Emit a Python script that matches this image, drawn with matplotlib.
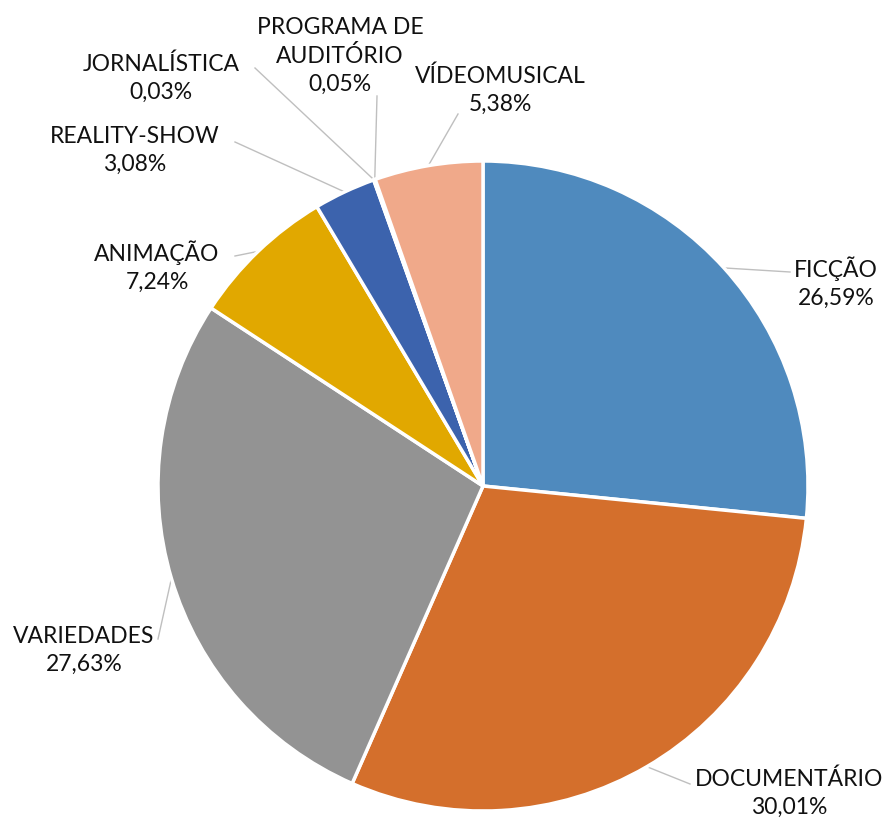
import numpy as np
from matplotlib import pyplot as plt

plt.rcParams['font.family'] = ['Lato', 'DejaVu Sans']

categorias = ['FICÇÃO', 'DOCUMENTÁRIO', 'VARIEDADES', 'ANIMAÇÃO', 'REALITY-SHOW',
              'JORNALÍSTICA', 'PROGRAMA DE\nAUDITÓRIO', 'VÍDEOMUSICAL']
valores = [26.59, 30.01, 27.63, 7.24, 3.08, 0.03, 0.05, 5.38]
cores = ['#4F8ABE', '#D46F2C', '#939393', '#E1A800', '#3C63AD',
         '#8A5A2A', '#6E6E6E', '#F0A98A']

# posicao dos rotulos (pixels) e cotovelo da linha de chamada
rotulos_px = [(836, 283), (789, 793), (84, 650), (157, 267), (135, 150),
              (161, 78), (340, 56), (500, 90)]
cotovelo_px = [(790, 273), (690, 785), (158, 640), (235, 257), (235, 143),
               (255, 69), (377, 97), (458, 115)]

W, H = 884, 820
CX, CY, R = 483, 487, 325


def px(x, y):
    return (x - CX) / R, (CY - y) / R


fig = plt.figure(figsize=(W / 100, H / 100), dpi=100)
ax = fig.add_axes([0, 0, 1, 1])
wedges, _ = ax.pie(valores, colors=cores, startangle=90, counterclock=False,
                   radius=1, wedgeprops=dict(edgecolor='white', linewidth=2.5))
ax.set_xlim(px(0, 0)[0], px(W, 0)[0])
ax.set_ylim(px(0, H)[1], px(0, 0)[1])
ax.set_aspect('equal')
ax.axis('off')

for w, nome, v, lp, cp in zip(wedges, categorias, valores, rotulos_px, cotovelo_px):
    ang = np.deg2rad((w.theta1 + w.theta2) / 2)
    ex, ey = np.cos(ang), np.sin(ang)
    cx, cy = px(*cp)
    ax.plot([ex, cx], [ey, cy], color='#BFBFBF', lw=1, zorder=0)
    tx, ty = px(*lp)
    texto = f"{nome}\n{v:.2f}%".replace('.', ',')
    ax.text(tx, ty, texto, ha='center', va='center', fontsize=16.5,
            color='#111111', linespacing=1.4)

fig.savefig('out.png', dpi=100)
